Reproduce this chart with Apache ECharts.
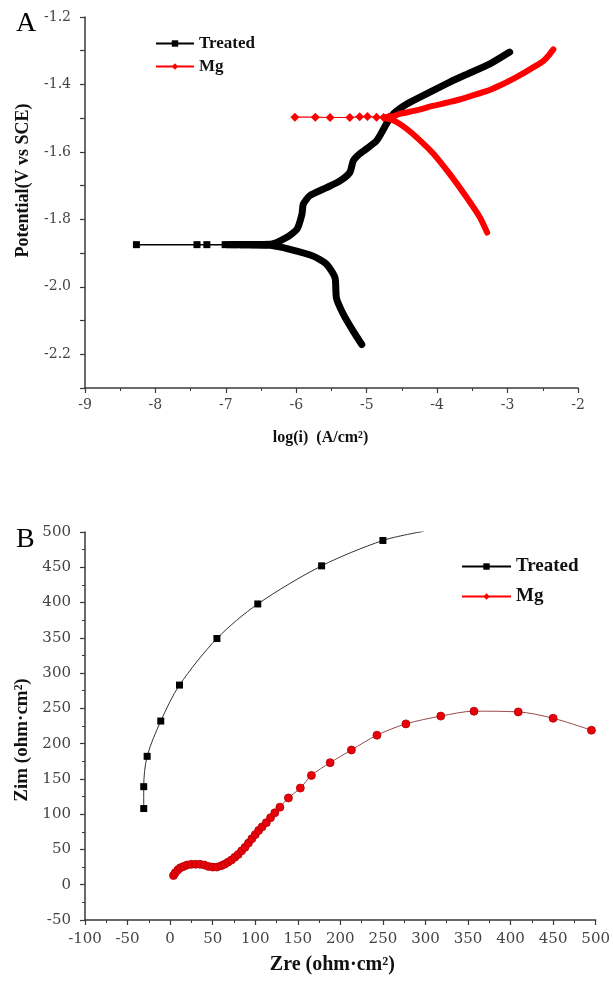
<!DOCTYPE html>
<html>
<head>
<meta charset="utf-8">
<script src="https://cdn.jsdelivr.net/npm/echarts@6/dist/echarts.min.js"></script>
<style>
html, body { margin: 0; padding: 0; background: #fff; }
#chart { width: 613px; height: 981px; }
</style>
</head>
<body>
<div id="chart"></div>
<script>
// ---- panel A: polarization curves, [log(i), potential] ----
var treatedSparse = [[-8.27,-1.875],[-7.41,-1.875],[-7.27,-1.875],[-7.01,-1.875],[-6.89,-1.875],[-6.75,-1.875],[-6.61,-1.875],[-6.47,-1.875]];
var treatedDense = [[-5.07,-2.171],[-5.19,-2.132],[-5.33,-2.082],[-5.43,-2.033],[-5.45,-1.973],[-5.57,-1.933],[-5.76,-1.909],[-6.09,-1.889],[-6.37,-1.877],[-7.0,-1.875],
    [-6.37,-1.874],[-6.14,-1.854],[-5.99,-1.829],[-5.92,-1.785],[-5.90,-1.755],[-5.81,-1.730],[-5.57,-1.706],[-5.38,-1.686],[-5.24,-1.661],[-5.19,-1.626],
    [-5.10,-1.606],[-4.86,-1.567],[-4.72,-1.517],[-4.62,-1.487],[-4.43,-1.458],[-4.15,-1.428],[-3.82,-1.393],[-3.58,-1.370],[-3.25,-1.339],[-2.97,-1.304]];
var mgSparse = [[-6.02,-1.497],[-5.73,-1.497],[-5.52,-1.498],[-5.24,-1.498],[-5.10,-1.496],[-4.99,-1.495],[-4.86,-1.497],[-4.76,-1.498],[-4.69,-1.497]];
var mgDense = [[-3.29,-1.839],[-3.39,-1.795],[-3.58,-1.735],[-3.82,-1.666],[-4.05,-1.606],[-4.29,-1.557],[-4.43,-1.532],[-4.53,-1.517],[-4.62,-1.507],[-4.76,-1.498],
    [-4.62,-1.494],[-4.53,-1.487],[-4.30,-1.477],[-4.05,-1.463],[-3.80,-1.451],[-3.58,-1.438],[-3.30,-1.420],[-3.11,-1.403],[-2.90,-1.381],[-2.73,-1.361],
    [-2.60,-1.345],[-2.49,-1.330],[-2.42,-1.315],[-2.35,-1.296]];

// ---- panel B: Nyquist plots, [Zre, Zim] ----
var treatedNyq = [[-31,108],[-31,139],[-27,182],[-11,232],[11,283],[55,349],[103,398],[178,452],[250,488]];
var treatedNyqEnd = [298,501];
var mgNyq = [[4,13],[6,17],[9,21],[12,24],[16,26],[20,28],[25,29],[30,29],[35,29],[40,28],[45,26],[50,25],[55,25],[60,27],[64,29],[68,32],[72,35],[76,39],[80,43],[84,48],[88,53],[92,59],[96,65],[100,71],[104,77],[108,82],[113,88],[118,95],[123,102],[129,110],[139,123],[153,137],[166,155],[188,173],[213,191],[243,212],[277,228],[318,239],[357,246],[409,245],[450,236],[495,219]];

var serif = 'Liberation Serif';
var tickFont = 'DejaVu Serif';
var axisColor = '#3a3a3a';

function valueAxis(extra) {
    var base = {
        type: 'value',
        axisLine: { show: true, onZero: false, lineStyle: { color: axisColor, width: 1.5 } },
        axisTick: { show: true, length: 5, lineStyle: { color: axisColor, width: 1.2 } },
        minorTick: { show: true, splitNumber: 2, length: 3, lineStyle: { color: axisColor, width: 1 } },
        splitLine: { show: false },
        nameLocation: 'middle'
    };
    for (var k in extra) base[k] = extra[k];
    return base;
}

var myChart = echarts.init(document.getElementById('chart'));
option = {
    animation: false,
    backgroundColor: '#fff',
    title: [
        { text: 'A', left: 11, top: 5, textStyle: { fontFamily: serif, fontWeight: 'normal', fontSize: 28, color: '#000' } },
        { text: 'B', left: 11, top: 521, textStyle: { fontFamily: serif, fontWeight: 'normal', fontSize: 28, color: '#000' } }
    ],
    legend: [
        {
            orient: 'vertical', left: 155, top: 35, padding: 0, itemWidth: 38, itemHeight: 8, itemGap: 6,
            data: ['Treated', 'Mg'],
            textStyle: { fontFamily: serif, fontWeight: 'bold', fontSize: 17, color: '#111' }
        },
        {
            orient: 'vertical', left: 461, top: 557, padding: 0, itemWidth: 49, itemHeight: 8, itemGap: 11,
            data: ['Treated', 'Mg'],
            textStyle: { fontFamily: serif, fontWeight: 'bold', fontSize: 19, color: '#111' }
        }
    ],
    grid: [
        { left: 85, top: 17, width: 493, height: 371 },
        { left: 85, top: 532, width: 512, height: 388 }
    ],
    xAxis: [
        valueAxis({
            gridIndex: 0, min: -9, max: -2, interval: 1,
            name: 'log(i)  (A/cm²)', nameGap: 42,
            nameTextStyle: { fontFamily: serif, fontWeight: 'bold', color: '#111', fontSize: 16, padding: [0, 22, 0, 0] },
            axisLabel: { color: '#444', fontFamily: tickFont, fontSize: 14, margin: 10 }
        }),
        valueAxis({
            gridIndex: 1, min: -100, max: 500, interval: 50,
            name: 'Zre (ohm·cm²)', nameGap: 35,
            nameTextStyle: { fontFamily: serif, fontWeight: 'bold', color: '#111', fontSize: 20, padding: [0, 16, 0, 0] },
            axisLabel: { color: '#444', fontFamily: tickFont, fontSize: 15, margin: 12 }
        })
    ],
    yAxis: [
        valueAxis({
            gridIndex: 0, min: -2.3, max: -1.2, interval: 0.1,
            name: 'Potential(V vs SCE)', nameGap: 53,
            nameTextStyle: { fontFamily: serif, fontWeight: 'bold', color: '#111', fontSize: 18, padding: [0, 0, 0, 44] },
            minorTick: { show: false },
            axisLabel: {
                color: '#444', fontFamily: tickFont, fontSize: 14, margin: 14,
                formatter: function (v) {
                    return Math.round(v * 10) % 2 === 0 ? v.toFixed(1) : '';
                }
            }
        }),
        valueAxis({
            gridIndex: 1, min: -50, max: 500, interval: 50,
            name: 'Zim (ohm·cm²)', nameGap: 52,
            nameTextStyle: { fontFamily: serif, fontWeight: 'bold', color: '#111', fontSize: 19, padding: [0, 28, 0, 0] },
            axisLabel: { color: '#444', fontFamily: tickFont, fontSize: 15, margin: 14 }
        })
    ],
    series: [
        {
            name: 'Treated', type: 'line', xAxisIndex: 0, yAxisIndex: 0,
            data: treatedSparse, symbol: 'rect', symbolSize: 7,
            itemStyle: { color: '#000' }, lineStyle: { color: '#000', width: 1.5 }
        },
        {
            name: 'Mg', type: 'line', xAxisIndex: 0, yAxisIndex: 0,
            data: mgSparse, symbol: 'diamond', symbolSize: 9,
            itemStyle: { color: '#ff0000' }, lineStyle: { color: '#ff0000', width: 1.2 }
        },
        {
            name: 'Treated', type: 'line', xAxisIndex: 0, yAxisIndex: 0,
            data: treatedDense, showSymbol: false, smooth: 0.2,
            lineStyle: { color: '#000', width: 7, cap: 'round', join: 'round' }
        },
        {
            name: 'Mg', type: 'line', xAxisIndex: 0, yAxisIndex: 0,
            data: mgDense, showSymbol: false, smooth: 0.2,
            lineStyle: { color: '#ff0000', width: 6, cap: 'round', join: 'round' }
        },
        {
            name: 'Treated', type: 'line', xAxisIndex: 1, yAxisIndex: 1,
            data: treatedNyq.concat([{ value: treatedNyqEnd, symbol: 'none' }]),
            symbol: 'rect', symbolSize: 7, smooth: 0.3,
            itemStyle: { color: '#000' }, lineStyle: { color: '#333', width: 1 }
        },
        {
            name: 'Mg', type: 'line', xAxisIndex: 1, yAxisIndex: 1,
            data: mgNyq, symbol: 'circle', symbolSize: 8, smooth: 0.3,
            itemStyle: { color: '#e8000b', borderColor: '#b00000', borderWidth: 0.8 },
            lineStyle: { color: '#9a4a4a', width: 1 }
        }
    ]
};
myChart.setOption(option);
</script>
</body>
</html>
